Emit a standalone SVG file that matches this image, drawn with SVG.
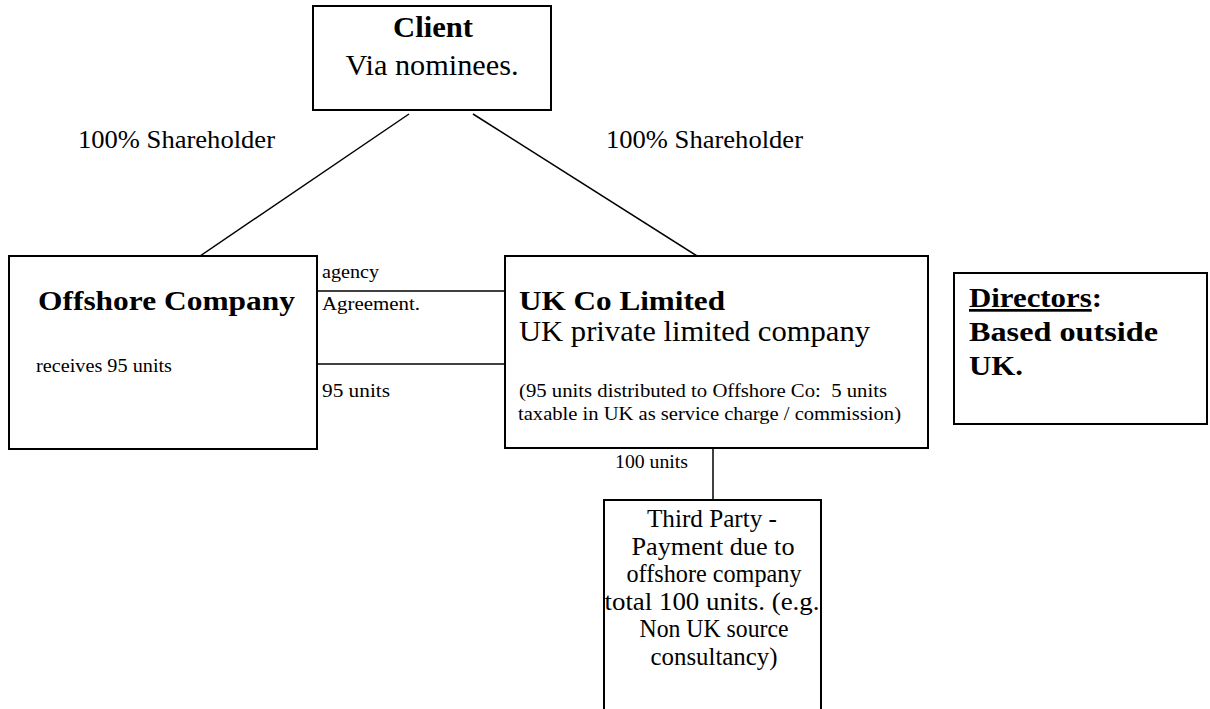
<svg xmlns="http://www.w3.org/2000/svg" width="1210" height="709" viewBox="0 0 1210 709">
<style>
.box{fill:#fff;stroke:#000;stroke-width:2}
.ln{stroke:#000;stroke-width:1.5;fill:none}
.t{font-family:"Liberation Serif",serif;fill:#000}
.b{font-weight:bold}
</style>
<rect width="1210" height="709" fill="#fff"/>
<g id="connectors">
<line class="ln" x1="409" y1="114" x2="200" y2="256"/>
<line class="ln" x1="473" y1="114" x2="697" y2="256"/>
<line class="ln" x1="317" y1="291" x2="508" y2="291" stroke-width="2.5"/>
<line class="ln" x1="317" y1="364" x2="508" y2="364" stroke-width="2"/>
<line class="ln" x1="713" y1="448" x2="713" y2="502" stroke-width="2"/>
<text class="t" x="78" y="148" font-size="25" textLength="197" lengthAdjust="spacingAndGlyphs">100% Shareholder</text>
<text class="t" x="606" y="148" font-size="25" textLength="197" lengthAdjust="spacingAndGlyphs">100% Shareholder</text>
<text class="t" x="322" y="278" font-size="19" textLength="57" lengthAdjust="spacingAndGlyphs">agency</text>
<text class="t" x="322" y="310" font-size="19" textLength="98" lengthAdjust="spacingAndGlyphs">Agreement.</text>
<text class="t" x="322" y="397" font-size="19" textLength="68" lengthAdjust="spacingAndGlyphs">95 units</text>
<text class="t" x="615" y="468" font-size="18" textLength="73" lengthAdjust="spacingAndGlyphs">100 units</text>
</g>
<g id="client">
<rect class="box" x="313" y="6" width="238" height="104"/>
<text class="t b" x="433" y="37" font-size="29" text-anchor="middle" textLength="80" lengthAdjust="spacingAndGlyphs">Client</text>
<text class="t" x="432" y="75" font-size="29" text-anchor="middle" textLength="173" lengthAdjust="spacingAndGlyphs">Via nominees.</text>
</g>
<g id="offshore">
<rect class="box" x="9" y="256" width="308" height="193"/>
<text class="t b" x="38" y="310" font-size="27" textLength="257" lengthAdjust="spacingAndGlyphs">Offshore Company</text>
<text class="t" x="36" y="372" font-size="19" textLength="136" lengthAdjust="spacingAndGlyphs">receives 95 units</text>
</g>
<g id="ukco">
<rect class="box" x="505" y="256" width="423" height="192"/>
<text class="t b" x="519" y="310" font-size="27" textLength="206" lengthAdjust="spacingAndGlyphs">UK Co Limited</text>
<text class="t" x="519" y="341" font-size="29" textLength="351" lengthAdjust="spacingAndGlyphs">UK private limited company</text>
<text class="t" x="519" y="397" font-size="19" xml:space="preserve" textLength="368" lengthAdjust="spacingAndGlyphs">(95 units distributed to Offshore Co:  5 units</text>
<text class="t" x="518" y="420" font-size="19" textLength="383" lengthAdjust="spacingAndGlyphs">taxable in UK as service charge / commission)</text>
</g>
<g id="directors">
<rect class="box" x="954" y="273" width="253" height="151"/>
<text class="t b" x="969" y="307" font-size="27" textLength="133" lengthAdjust="spacingAndGlyphs"><tspan text-decoration="underline">Directors</tspan>:</text>
<text class="t b" x="969" y="341" font-size="27" textLength="189" lengthAdjust="spacingAndGlyphs">Based outside</text>
<text class="t b" x="969" y="375" font-size="27" textLength="54" lengthAdjust="spacingAndGlyphs">UK.</text>
</g>
<g id="thirdparty">
<rect class="box" x="604" y="500" width="217" height="220"/>
<g class="t" font-size="25" text-anchor="middle">
<text x="712" y="527" textLength="130" lengthAdjust="spacingAndGlyphs">Third Party -</text>
<text x="713" y="555" textLength="163" lengthAdjust="spacingAndGlyphs">Payment due to</text>
<text x="714" y="582" textLength="175" lengthAdjust="spacingAndGlyphs">offshore company</text>
<text x="712" y="610" textLength="215" lengthAdjust="spacingAndGlyphs">total 100 units. (e.g.</text>
<text x="714" y="637" textLength="149" lengthAdjust="spacingAndGlyphs">Non UK source</text>
<text x="714" y="665" textLength="127" lengthAdjust="spacingAndGlyphs">consultancy)</text>
</g>
</g>
</svg>
